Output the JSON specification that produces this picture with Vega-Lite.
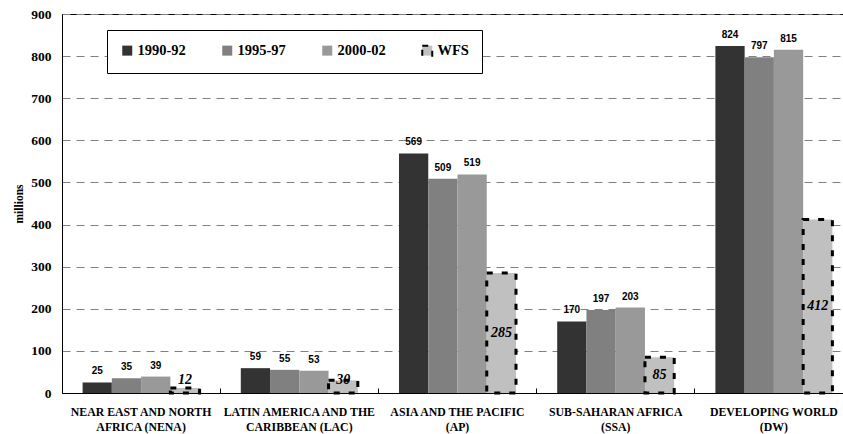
{
  "$schema": "https://vega.github.io/schema/vega-lite/v6.json",
  "width": 791,
  "height": 379,
  "autosize": "none",
  "padding": {"left": 62, "top": 14, "right": 0, "bottom": 41},
  "background": "white",
  "config": {
    "view": {"stroke": "black", "strokeWidth": 1},
    "axis": {"labelFont": "Liberation Serif", "titleFont": "Liberation Serif", "labelColor": "black", "titleColor": "black"}
  },
  "data": {
    "values": [
      {"region": "NEAR EAST AND NORTH AFRICA (NENA)", "series": "1990-92", "value": 25},
      {"region": "NEAR EAST AND NORTH AFRICA (NENA)", "series": "1995-97", "value": 35},
      {"region": "NEAR EAST AND NORTH AFRICA (NENA)", "series": "2000-02", "value": 39},
      {"region": "NEAR EAST AND NORTH AFRICA (NENA)", "series": "WFS", "value": 12},
      {"region": "LATIN AMERICA AND THE CARIBBEAN (LAC)", "series": "1990-92", "value": 59},
      {"region": "LATIN AMERICA AND THE CARIBBEAN (LAC)", "series": "1995-97", "value": 55},
      {"region": "LATIN AMERICA AND THE CARIBBEAN (LAC)", "series": "2000-02", "value": 53},
      {"region": "LATIN AMERICA AND THE CARIBBEAN (LAC)", "series": "WFS", "value": 30},
      {"region": "ASIA AND THE PACIFIC (AP)", "series": "1990-92", "value": 569},
      {"region": "ASIA AND THE PACIFIC (AP)", "series": "1995-97", "value": 509},
      {"region": "ASIA AND THE PACIFIC (AP)", "series": "2000-02", "value": 519},
      {"region": "ASIA AND THE PACIFIC (AP)", "series": "WFS", "value": 285},
      {"region": "SUB-SAHARAN AFRICA (SSA)", "series": "1990-92", "value": 170},
      {"region": "SUB-SAHARAN AFRICA (SSA)", "series": "1995-97", "value": 197},
      {"region": "SUB-SAHARAN AFRICA (SSA)", "series": "2000-02", "value": 203},
      {"region": "SUB-SAHARAN AFRICA (SSA)", "series": "WFS", "value": 85},
      {"region": "DEVELOPING WORLD (DW)", "series": "1990-92", "value": 824},
      {"region": "DEVELOPING WORLD (DW)", "series": "1995-97", "value": 797},
      {"region": "DEVELOPING WORLD (DW)", "series": "2000-02", "value": 815},
      {"region": "DEVELOPING WORLD (DW)", "series": "WFS", "value": 412}
    ]
  },
  "encoding": {
    "x": {
      "field": "region",
      "type": "nominal",
      "sort": null,
      "scale": {"paddingInner": 0, "paddingOuter": 0},
      "axis": {
        "title": null,
        "labelAngle": 0,
        "bandPosition": 0,
        "tickSize": -5,
        "tickColor": "black",
        "domainColor": "black",
        "labelFontSize": 11.8,
        "labelFontWeight": "bold",
        "labelPadding": 18,
        "labelBaseline": "top",
        "labelLineHeight": 15,
        "labelLimit": 200,
        "labelExpr": "datum.value == 'NEAR EAST AND NORTH AFRICA (NENA)' ? ['NEAR EAST AND NORTH', 'AFRICA (NENA)'] : datum.value == 'LATIN AMERICA AND THE CARIBBEAN (LAC)' ? ['LATIN AMERICA AND THE', 'CARIBBEAN (LAC)'] : datum.value == 'ASIA AND THE PACIFIC (AP)' ? ['ASIA AND THE PACIFIC', '(AP)'] : datum.value == 'SUB-SAHARAN AFRICA (SSA)' ? ['SUB-SAHARAN AFRICA', '(SSA)'] : ['DEVELOPING WORLD', '(DW)']"
      }
    },
    "xOffset": {
      "field": "series",
      "type": "nominal",
      "sort": ["1990-92", "1995-97", "2000-02", "WFS"],
      "scale": {"paddingInner": 0, "paddingOuter": 0.704}
    }
  },
  "layer": [
    {
      "mark": {"type": "bar", "strokeWidth": 3},
      "encoding": {
        "y": {
          "field": "value",
          "type": "quantitative",
          "scale": {"domain": [0, 900], "nice": false},
          "axis": {
            "title": "millions",
            "titleFontSize": 11.5,
            "titleFontWeight": "bold",
            "titlePadding": 6,
            "values": [0, 100, 200, 300, 400, 500, 600, 700, 800, 900],
            "labelFontSize": 13.5,
            "labelFontWeight": "bold",
            "labelPadding": 11,
            "ticks": false,
            "domainColor": "black",
            "grid": true,
            "gridColor": "#808080",
            "gridDash": [8, 6],
            "gridWidth": 1
          }
        },
        "fill": {
          "field": "series",
          "type": "nominal",
          "scale": {"domain": ["1990-92", "1995-97", "2000-02", "WFS"], "range": ["#333333", "#808080", "#999999", "#c0c0c0"]},
          "legend": {
            "title": null,
            "orient": "none",
            "legendX": 45,
            "legendY": 16,
            "direction": "horizontal",
            "strokeColor": "black",
            "fillColor": "white",
            "padding": 13,
            "symbolType": "square",
            "symbolSize": 100,
            "symbolStrokeWidth": 2,
            "labelFont": "Liberation Serif",
            "labelFontWeight": "bold",
            "labelFontSize": 14.5,
            "labelColor": "black",
            "labelOffset": 3,
            "columnPadding": 32
          }
        },
        "stroke": {
          "field": "series",
          "type": "nominal",
          "scale": {"domain": ["1990-92", "1995-97", "2000-02", "WFS"], "range": ["transparent", "transparent", "transparent", "black"]}
        },
        "strokeDash": {
          "field": "series",
          "type": "nominal",
          "scale": {"domain": ["1990-92", "1995-97", "2000-02", "WFS"], "range": [[1, 0], [1, 0], [1, 0], [6, 9]]}
        }
      }
    },
    {
      "transform": [{"filter": "datum.series != 'WFS'"}],
      "mark": {"type": "text", "baseline": "bottom", "dy": -6, "font": "Liberation Sans", "fontWeight": "bold", "fontSize": 10, "color": "black"},
      "encoding": {
        "y": {"field": "value", "type": "quantitative"},
        "text": {"field": "value", "type": "quantitative"}
      }
    },
    {
      "transform": [
        {"filter": "datum.series == 'WFS'"},
        {"calculate": "max(datum.value / 2, 32)", "as": "labelPos"}
      ],
      "mark": {"type": "text", "baseline": "middle", "font": "Liberation Serif", "fontStyle": "italic", "fontWeight": "bold", "fontSize": 14, "color": "black"},
      "encoding": {
        "y": {"field": "labelPos", "type": "quantitative"},
        "text": {"field": "value", "type": "quantitative"}
      }
    }
  ]
}
